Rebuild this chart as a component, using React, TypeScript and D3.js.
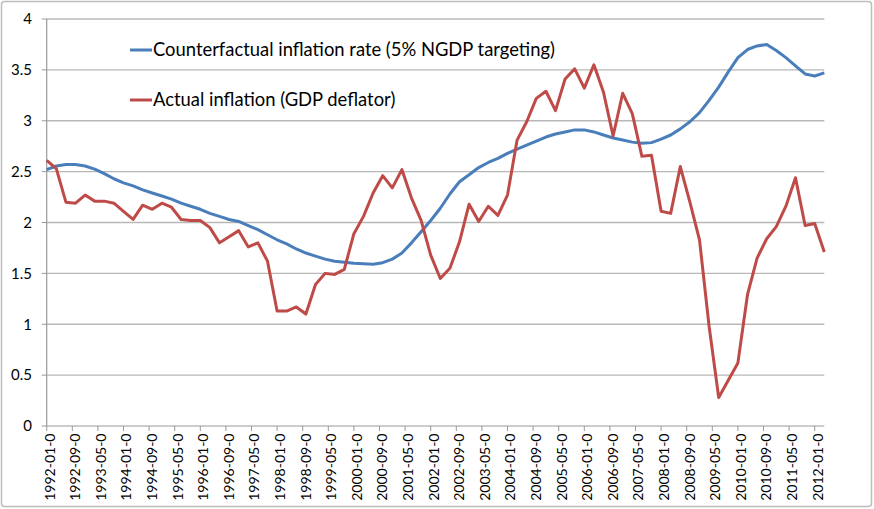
import React from "react";
import * as d3 from "d3";

const START_YEAR = 1992;
// quarterly observations, 1992-01 .. 2012-04
const counterfactual = [
  2.52, 2.555, 2.57, 2.57, 2.555, 2.525, 2.48, 2.43, 2.39, 2.36,
  2.32, 2.29, 2.26, 2.23, 2.19, 2.16, 2.13, 2.09, 2.06, 2.03,
  2.01, 1.97, 1.93, 1.88, 1.83, 1.79, 1.74, 1.70, 1.67, 1.64,
  1.62, 1.61, 1.60, 1.595, 1.59, 1.605, 1.64, 1.70, 1.80, 1.91,
  2.02, 2.14, 2.28, 2.40, 2.47, 2.54, 2.59, 2.63, 2.68, 2.72,
  2.76, 2.80, 2.84, 2.87, 2.89, 2.91, 2.91, 2.89, 2.86, 2.83,
  2.81, 2.79, 2.78, 2.785, 2.82, 2.86, 2.92, 2.99, 3.08, 3.20,
  3.33, 3.48, 3.62, 3.70, 3.735, 3.75, 3.69, 3.62, 3.54, 3.46,
  3.44, 3.47,
];
const actual = [
  2.61, 2.53, 2.20, 2.19, 2.27, 2.21, 2.21, 2.19, 2.11, 2.03,
  2.17, 2.13, 2.19, 2.15, 2.03, 2.02, 2.02, 1.95, 1.80, 1.86,
  1.92, 1.76, 1.80, 1.62, 1.13, 1.13, 1.17, 1.10, 1.39, 1.50,
  1.49, 1.54, 1.89, 2.06, 2.29, 2.46, 2.34, 2.52, 2.24, 2.02,
  1.68, 1.45, 1.55, 1.81, 2.18, 2.01, 2.16, 2.07, 2.27, 2.81,
  2.99, 3.22, 3.29, 3.10, 3.41, 3.51, 3.32, 3.55, 3.28, 2.85,
  3.27, 3.07, 2.65, 2.66, 2.11, 2.09, 2.55, 2.20, 1.83, 0.98,
  0.28, 0.45, 0.62, 1.29, 1.65, 1.84, 1.96, 2.16, 2.44, 1.97,
  1.99, 1.71,
];
const tickLabels = [
  "1992-01-0", "1992-09-0", "1993-05-0", "1994-01-0", "1994-09-0", "1995-05-0",
  "1996-01-0", "1996-09-0", "1997-05-0", "1998-01-0", "1998-09-0", "1999-05-0",
  "2000-01-0", "2000-09-0", "2001-05-0", "2002-01-0", "2002-09-0", "2003-05-0",
  "2004-01-0", "2004-09-0", "2005-05-0", "2006-01-0", "2006-09-0", "2007-05-0",
  "2008-01-0", "2008-09-0", "2009-05-0", "2010-01-0", "2010-09-0", "2011-05-0",
  "2012-01-0",
];
const yTicks = [0, 0.5, 1, 1.5, 2, 2.5, 3, 3.5, 4];
const seriesNames = [
  "Counterfactual inflation rate (5% NGDP targeting)",
  "Actual inflation (GDP deflator)",
];
const colors = ["#4a7ebb", "#be4b48"];

const W = 874, H = 509;
const FONT = "Lato, 'Open Sans', sans-serif";

function monthIndex(label: string) {
  const [y, m] = label.split("-").map(Number);
  return (y - START_YEAR) * 12 + (m - 1);
}

export default function App() {
  const x = d3.scaleLinear().domain([0, 243]).range([46.7, 824.3]);
  const y = d3.scaleLinear().domain([0, 4]).range([426, 19]);
  const line = d3
    .line<number>()
    .x((_, i) => x(i * 3))
    .y((d) => y(d));

  return (
    <svg
      width={W}
      height={H}
      style={{ position: "absolute", left: 0, top: 0, background: "#fff" }}
      fontFamily={FONT}
    >
      <rect x={1.5} y={1.5} width={W - 4} height={H - 4} rx={3} fill="#fff" stroke="#bdbdbd" strokeWidth={1.5} />
      {yTicks.map((t) => (
        <g key={t}>
          {t > 0 && (
            <line x1={x(0)} x2={x(243)} y1={y(t)} y2={y(t)} stroke="#b8b8b8" strokeWidth={1.3} />
          )}
          <line x1={x(0) - 5} x2={x(0)} y1={y(t)} y2={y(t)} stroke="#9a9a9a" strokeWidth={1} />
          <text x={32} y={y(t)} dy="0.35em" textAnchor="end" fontSize={15} fill="#000">
            {t}
          </text>
        </g>
      ))}
      <line x1={x(0)} x2={x(0)} y1={y(4)} y2={y(0)} stroke="#9a9a9a" strokeWidth={1.2} />
      <line x1={x(0)} x2={x(243)} y1={y(0)} y2={y(0)} stroke="#9a9a9a" strokeWidth={1.2} />
      {tickLabels.map((lab) => {
        const px = x(monthIndex(lab));
        return (
          <g key={lab}>
            <line x1={px} x2={px} y1={y(0)} y2={y(0) + 5} stroke="#9a9a9a" strokeWidth={1} />
            <text
              transform={`translate(${px + 7.8},433.5) rotate(-90)`}
              textAnchor="end"
              fontSize={14}
              fill="#000"
            >
              {lab}
            </text>
          </g>
        );
      })}
      <path d={line(counterfactual) || ""} fill="none" stroke={colors[0]} strokeWidth={3} strokeLinejoin="round" />
      <path d={line(actual) || ""} fill="none" stroke={colors[1]} strokeWidth={3} strokeLinejoin="round" />
      {seriesNames.map((name, i) => (
        <g key={name}>
          <line x1={130} x2={152} y1={50 + i * 50} y2={50 + i * 50} stroke={colors[i]} strokeWidth={3} />
          <text x={153} y={50 + i * 50} dy="0.35em" fontSize={18.4} fill="#000">
            {name}
          </text>
        </g>
      ))}
    </svg>
  );
}
